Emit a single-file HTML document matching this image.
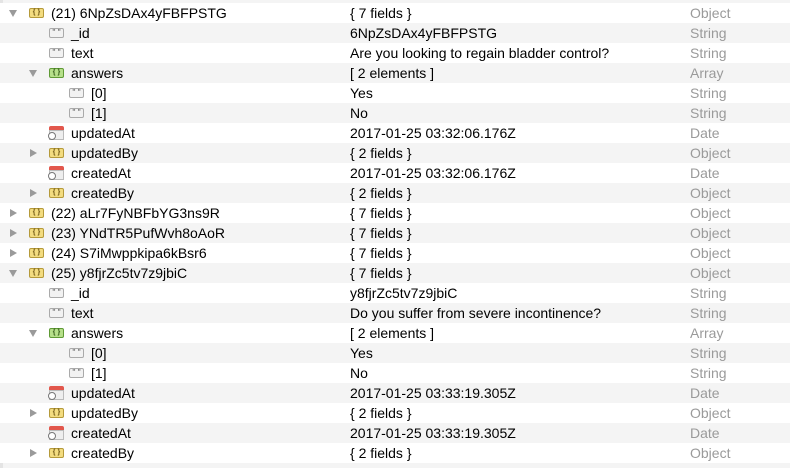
<!DOCTYPE html>
<html><head><meta charset="utf-8"><style>
*{margin:0;padding:0;box-sizing:border-box}
body{width:790px;height:468px;overflow:hidden;background:#f4f4f4;font-family:"Liberation Sans",Arial,sans-serif;font-size:14px;color:#000;position:relative}
.r{position:absolute;left:0;width:790px;height:20px;line-height:20px}
.w{background:#fff}.g{background:#f4f4f4}
.r span{position:absolute;top:0;white-space:nowrap}
.v{left:350px}.t{left:690px;color:#9a9a9a}
.ar{position:absolute;top:7px;width:0;height:0}
.dn{border-left:4px solid transparent;border-right:4px solid transparent;border-top:7px solid #9a9a9a}
.rt{top:6px;border-top:4px solid transparent;border-bottom:4px solid transparent;border-left:7px solid #9a9a9a}
.ic{position:absolute;top:5px;width:15px;height:10px;border-radius:2px;font-size:7px;line-height:8px;text-align:center;font-weight:bold}
.o{background:#f3dc80;border:1px solid #b59a3a;color:#6a5310}
.a{background:#b6e08a;border:1px solid #5f9a35;color:#2d5514}
.s{background:#f2f2f2;border:1px solid #aaa;color:#777}
.d{top:3px;width:15px;height:14px}
.d i{position:absolute;left:0;top:0;width:15px;height:4px;background:#e2574c;border-radius:2px 2px 0 0}
.d b{position:absolute;left:0;top:4px;width:15px;height:10px;background:#eee;border:1px solid #bbb}
.d u{position:absolute;left:-1px;top:6px;width:8px;height:8px;border-radius:50%;background:#fff;border:1px solid #777}
.lb{position:absolute;left:0;top:0;width:3px;height:468px;background:#e4e4e4}
</style></head><body>
<div class="lb"></div>
<div id="c"></div>
<script>
var R=[
[0,'d','o','(21) 6NpZsDAx4yFBFPSTG','{ 7 fields }','Object'],
[1,'','s','_id','6NpZsDAx4yFBFPSTG','String'],
[1,'','s','text','Are you looking to regain bladder control?','String'],
[1,'d','a','answers','[ 2 elements ]','Array'],
[2,'','s','[0]','Yes','String'],
[2,'','s','[1]','No','String'],
[1,'','dt','updatedAt','2017-01-25 03:32:06.176Z','Date'],
[1,'r','o','updatedBy','{ 2 fields }','Object'],
[1,'','dt','createdAt','2017-01-25 03:32:06.176Z','Date'],
[1,'r','o','createdBy','{ 2 fields }','Object'],
[0,'r','o','(22) aLr7FyNBFbYG3ns9R','{ 7 fields }','Object'],
[0,'r','o','(23) YNdTR5PufWvh8oAoR','{ 7 fields }','Object'],
[0,'r','o','(24) S7iMwppkipa6kBsr6','{ 7 fields }','Object'],
[0,'d','o','(25) y8fjrZc5tv7z9jbiC','{ 7 fields }','Object'],
[1,'','s','_id','y8fjrZc5tv7z9jbiC','String'],
[1,'','s','text','Do you suffer from severe incontinence?','String'],
[1,'d','a','answers','[ 2 elements ]','Array'],
[2,'','s','[0]','Yes','String'],
[2,'','s','[1]','No','String'],
[1,'','dt','updatedAt','2017-01-25 03:33:19.305Z','Date'],
[1,'r','o','updatedBy','{ 2 fields }','Object'],
[1,'','dt','createdAt','2017-01-25 03:33:19.305Z','Date'],
[1,'r','o','createdBy','{ 2 fields }','Object']];
var h='';
R.forEach(function(r,i){
 var x=r[0]*20;
 h+='<div class="r '+(i%2?'g':'w')+'" style="top:'+(3+i*20)+'px">';
 if(r[1]=='d')h+='<div class="ar dn" style="left:'+(9+x)+'px"></div>';
 if(r[1]=='r')h+='<div class="ar rt" style="left:'+(10+x)+'px"></div>';
 if(r[2]=='dt')h+='<div class="ic d" style="left:'+(29+x)+'px"><b></b><i></i><u></u></div>';
 else h+='<div class="ic '+r[2]+'" style="left:'+(29+x)+'px">'+(r[2]=='s'?'" "':'{ }')+'</div>';
 h+='<span style="left:'+(51+x)+'px">'+r[3]+'</span><span class="v">'+r[4]+'</span><span class="t">'+r[5]+'</span></div>';
});
document.getElementById('c').innerHTML=h;
</script>
</body></html>
